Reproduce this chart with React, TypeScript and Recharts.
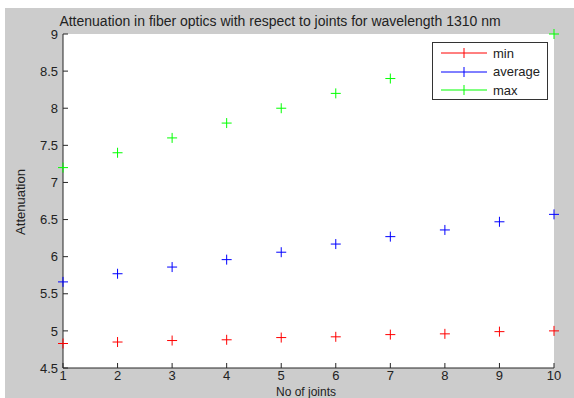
import React from 'react';
import { ScatterChart, Scatter, XAxis, YAxis, CartesianGrid, Legend } from 'recharts';

// values
const joints = [1, 2, 3, 4, 5, 6, 7, 8, 9, 10];
const minAtt = [4.83, 4.85, 4.87, 4.88, 4.91, 4.92, 4.95, 4.96, 4.99, 5.0];
const avgAtt = [5.66, 5.77, 5.86, 5.96, 6.06, 6.17, 6.27, 6.36, 6.47, 6.57];
const maxAtt = [7.2, 7.4, 7.6, 7.8, 8.0, 8.2, 8.4, 8.6, 8.8, 9.0];
const xTicks = [1, 2, 3, 4, 5, 6, 7, 8, 9, 10];
const yTicks = [4.5, 5, 5.5, 6, 6.5, 7, 7.5, 8, 8.5, 9];

const series = [
  { name: 'min', color: '#ff0000', values: minAtt },
  { name: 'average', color: '#0000ff', values: avgAtt },
  { name: 'max', color: '#00ff00', values: maxAtt },
];

const FONT = '"Liberation Sans", Arial, sans-serif';
const AXIS = '#262626';

const toPoints = (vals: number[]) => joints.map((x, i) => ({ x, y: vals[i] }));

// MATLAB style "+" marker
const Plus = (props: any) => {
  const { cx, cy, fill } = props;
  if (cx == null || cy == null) return null;
  return (
    <g stroke={fill} strokeWidth={1}>
      <line x1={cx - 5} y1={cy} x2={cx + 5} y2={cy} />
      <line x1={cx} y1={cy - 5} x2={cx} y2={cy + 5} />
    </g>
  );
};

// ticks point into the plot, like matlab
const XTick = (props: any) => {
  const { x, y, payload } = props;
  return (
    <g>
      <line x1={x} y1={y} x2={x} y2={y - 5} stroke={AXIS} />
      <text x={x} y={y + 3} dy="0.71em" textAnchor="middle" fontSize={13} fill="#222" fontFamily={FONT}>
        {payload.value}
      </text>
    </g>
  );
};

const YTick = (props: any) => {
  const { x, y, payload } = props;
  return (
    <g>
      <line x1={x} y1={y} x2={x + 5} y2={y} stroke={AXIS} />
      <text x={x - 5} y={y} dy="0.355em" textAnchor="end" fontSize={13} fill="#222" fontFamily={FONT}>
        {payload.value}
      </text>
    </g>
  );
};

const renderLegend = () => (
  <div
    style={{
      width: 116,
      height: 58,
      boxSizing: 'border-box',
      border: '1px solid #333',
      background: '#fff',
      fontFamily: FONT,
      fontSize: 13,
      color: '#222',
      paddingTop: 1,
    }}
  >
    {series.map((s) => (
      <div key={s.name} style={{ display: 'flex', alignItems: 'center', height: 18.5 }}>
        <svg width={60} height={18} style={{ display: 'block' }}>
          <line x1={8} y1={9} x2={54} y2={9} stroke={s.color} />
          <line x1={31} y1={4} x2={31} y2={14} stroke={s.color} />
        </svg>
        <span>{s.name}</span>
      </div>
    ))}
  </div>
);

export default function App() {
  return (
    <div style={{ position: 'absolute', left: 0, top: 0, width: 574, height: 398, background: '#fff', overflow: 'hidden' }}>
      <div style={{ position: 'absolute', left: 5, top: 8, width: 569, height: 390, background: '#cccccc' }}>
        <ScatterChart width={569} height={390} margin={{ top: 26, right: 20, bottom: 0, left: 18 }}>
          <CartesianGrid fill="#ffffff" horizontal={false} vertical={false} />
          <XAxis
            type="number"
            dataKey="x"
            domain={[1, 10]}
            ticks={xTicks}
            height={30}
            tickSize={0}
            tickMargin={0}
            stroke={AXIS}
            tick={<XTick />}
          />
          <YAxis
            type="number"
            dataKey="y"
            domain={[4.5, 9]}
            ticks={yTicks}
            width={40}
            tickSize={0}
            tickMargin={0}
            stroke={AXIS}
            tick={<YTick />}
          />
          <Legend
            layout="vertical"
            align="center"
            verticalAlign="middle"
            content={renderLegend}
            wrapperStyle={{ left: 427, top: 34, width: 116, height: 58 }}
          />
          {series.map((s) => (
            <Scatter
              key={s.name}
              name={s.name}
              data={toPoints(s.values)}
              fill={s.color}
              shape={<Plus />}
              isAnimationActive={false}
            />
          ))}
          <text x={275} y={13} dy="0.355em" textAnchor="middle" fontSize={14} fill="#222" fontFamily={FONT}>
            Attenuation in fiber optics with respect to joints for wavelength 1310 nm
          </text>
          <text
            x={15}
            y={194}
            dy="0.355em"
            textAnchor="middle"
            fontSize={13}
            fill="#222"
            fontFamily={FONT}
            transform="rotate(-90 15 194)"
          >
            Attenuation
          </text>
          <text x={301} y={388} textAnchor="middle" fontSize={12} fill="#222" fontFamily={FONT}>
            No of joints
          </text>
        </ScatterChart>
      </div>
    </div>
  );
}
